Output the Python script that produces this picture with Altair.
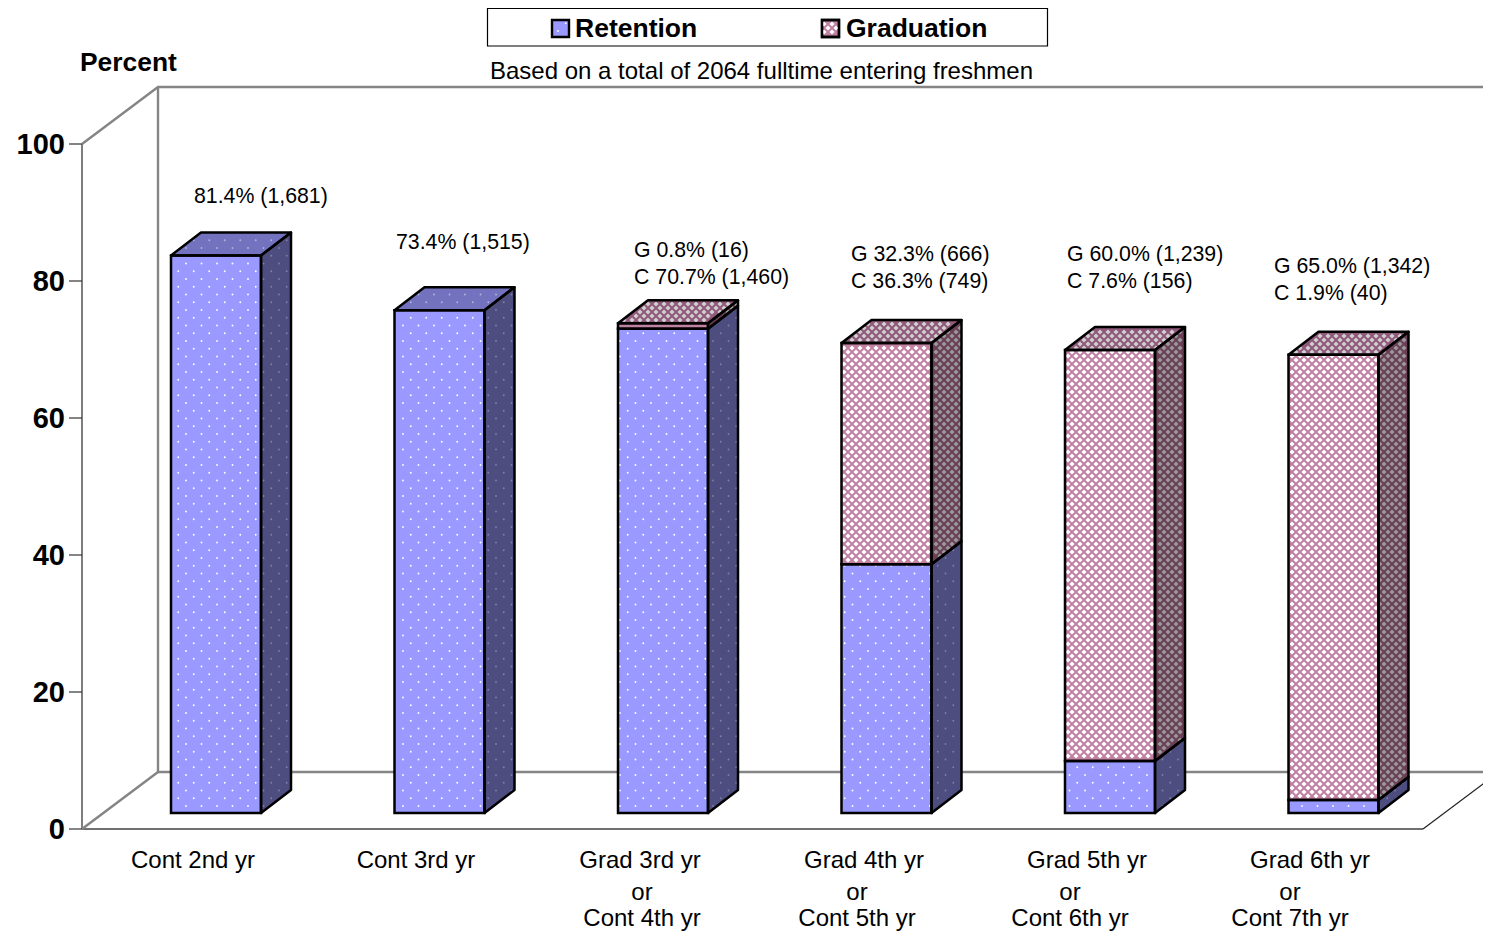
import altair as alt

# ---------- chart values ----------
categories = [["Cont 2nd yr"], ["Cont 3rd yr"],
              ["Grad 3rd yr", "or", "Cont 4th yr"],
              ["Grad 4th yr", "or", "Cont 5th yr"],
              ["Grad 5th yr", "or", "Cont 6th yr"],
              ["Grad 6th yr", "or", "Cont 7th yr"]]
retention = [81.4, 73.4, 70.7, 36.3, 7.6, 1.9]
retention_n = [1681, 1515, 1460, 749, 156, 40]
graduation = [0.0, 0.0, 0.8, 32.3, 60.0, 65.0]
graduation_n = [0, 0, 16, 666, 1239, 1342]
ticks = [0, 20, 40, 60, 80, 100]
series_names = ["Retention", "Graduation"]
note = "Based on a total of 2064 fulltime entering freshmen"
y_title = "Percent"

# ---------- layout (page pixels) ----------
W, H = 1475, 924
PX0, PXS = 82.0, 223.5      # floor front-left, width of one category
PY0, PYS = 829.0, 6.85      # value 0 at the front wall, pixels per percent
def U(px): return (px - PX0) / PXS
def P(py): return (PY0 - py) / PYS
xs = alt.Scale(domain=[U(8), U(8 + W)], nice=False, zero=False)
ys = alt.Scale(domain=[P(8 + H), P(8)], nice=False, zero=False)
BAR_L, BAR_W = U(171), 90 / PXS
BASE = P(813)
DX, DY = 30 / PXS, 23 / PYS
WX, WY = 76 / PXS, 57 / PYS

FONT = "Liberation Sans"
BLUE = {"front": "#9999ff", "side": "#4d4d80", "top": "#7272bf"}
BLUE_DOT = {"front": "#ffffff", "side": "#8080a0", "top": "#b4b4d8"}
PINK = {"front": "#c081a3", "side": "#6b3f57", "top": "#90587a"}
PINK_DOT = {"front": "#ffffff", "side": "#999999", "top": "#d0d0d0"}
BLOB = 26

# ---------- faces ----------
fronts, sides, tops = [], [], []
dots, blobs = [], []

def inside(face, px, py, l, r, b, t):
    d, e = 30, 23
    m = 1.0
    if face == "front":
        return l + m < px < r - m and t + m < py < b - m
    if not (r + m < px < r + d - m):
        return False
    s = (px - r) * e / d
    return t - s + m < py < b - s - m

def fill_texture(out, per_x, per_y, l, r, b, t, colours, with_side=True):
    row = int(t // per_y) - 5
    while row * per_y < b + 1:
        py = row * per_y
        off = per_x / 2 if row % 2 else 0
        k = int((l - 5) // per_x)
        while k * per_x + off < r + 35:
            px = k * per_x + off
            if inside("front", px, py, l, r, b, t):
                out.append({"u": U(px), "p": P(py), "c": colours["front"]})
            elif with_side and inside("side", px, py, l, r, b, t):
                out.append({"u": U(px), "p": P(py), "c": colours["side"]})
            k += 1
        row += 1

def fill_top(out, per_x, per_y, l, r, t, colours):
    row = int((t - 23) // per_y) - 1
    while row * per_y < t:
        py = row * per_y
        if t - 23 + 1.5 < py < t - 1.5:
            s = (t - py) * 30 / 23
            off = per_x / 2 if row % 2 else 0
            k = int((l - 5) // per_x)
            while k * per_x + off < r + 35:
                px = k * per_x + off
                if l + s + 1.5 < px < r + s - 1.5:
                    out.append({"u": U(px), "p": P(py), "c": colours["top"]})
                k += 1
        row += 1

for i in range(6):
    left = BAR_L + i
    right = left + BAR_W
    lower = BASE
    parts = [("r", retention[i], BLUE), ("g", graduation[i], PINK)]
    parts = [q for q in parts if q[1] > 0]
    for j, (name, val, pal) in enumerate(parts):
        upper = lower + val
        key = f"{i}{name}"
        fronts.append({"x": left, "x2": right, "y": lower, "y2": upper, "f": pal["front"]})
        sides.append({"id": key, "x": right, "y": lower, "y2": upper, "f": pal["side"]})
        sides.append({"id": key, "x": right + DX, "y": lower + DY, "y2": upper + DY, "f": pal["side"]})
        l_px = PX0 + left * PXS
        r_px = PX0 + right * PXS
        b_px = PY0 - lower * PYS
        t_px = PY0 - upper * PYS
        if name == "r":
            fill_texture(dots, 15.5, 7.75, l_px, r_px, b_px, t_px, BLUE_DOT)
        else:
            fill_texture(blobs, 8.0, 4.0, l_px, r_px, b_px, t_px, PINK_DOT)
        if j == len(parts) - 1:
            tops.append({"id": key, "x": left, "x2": right, "y": upper, "f": pal["top"]})
            tops.append({"id": key, "x": left + DX, "x2": right + DX, "y": upper + DY, "f": pal["top"]})
            if name == "r":
                fill_top(dots, 15.5, 7.75, l_px, r_px, t_px, BLUE_DOT)
            else:
                fill_top(blobs, 8.0, 4.0, l_px, r_px, t_px, PINK_DOT)
        lower = upper

# legend swatch texture
leg_blob = []
fill_texture(leg_blob, 8.0, 4.0, 821, 840, 37, 19, PINK_DOT, with_side=False)
leg_dot = []
fill_texture(leg_dot, 15.5, 7.75, 551, 570, 37, 19, BLUE_DOT, with_side=False)

def X(f="x"): return alt.X(f"{f}:Q", scale=xs, axis=None)
def Y(f="y"): return alt.Y(f"{f}:Q", scale=ys, axis=None)
def D(rows): return alt.Data(values=rows)

# ---------- walls ----------
grey = "#858585"
wall_thick = [
    [(0, 100), (WX, 100 + WY), (U(1500), 100 + WY)],
    [(WX, 100 + WY), (WX, WY), (U(1500), WY)],
    [(WX, WY), (0, 0)],
]
wall_thin = [
    [(0, 0), (0, 100)],
    [(0, 0), (6, 0)],
]
wall_black = [[(6, 0), (6 + WX, WY)]]
def wall_rows(segs):
    return [{"id": a, "o": b, "x": p[0], "y": p[1]} for a, s in enumerate(segs) for b, p in enumerate(s)]

def walls(segs, colour, width):
    return alt.Chart(D(wall_rows(segs))).mark_line(color=colour, strokeWidth=width, clip=True).encode(
        x=X(), y=Y(), detail="id:N", order="o:Q")

layers = [
    walls(wall_thin, "#707070", 1.8),
    walls(wall_thick, grey, 2.4),
    walls(wall_black, "#222222", 1.2),
]

# ---------- value axis, drawn through the y scale ----------
tick_rows = [{"v": v} for v in ticks]
layers += [
    alt.Chart(D(tick_rows)).mark_rule(color="#333333", strokeWidth=1.2).encode(
        x=alt.value(69 - 8), x2=alt.value(82 - 8), y=alt.Y("v:Q", scale=ys, axis=None)),
    alt.Chart(D(tick_rows)).mark_text(font=FONT, fontSize=29, fontWeight="bold", align="right",
                                      baseline="middle", color="black", dy=1).encode(
        x=alt.value(65 - 8), y=alt.Y("v:Q", scale=ys, axis=None), text="v:Q"),
]

# ---------- bars ----------
colr = alt.Color("f:N", scale=None)
SW = 2.5
layers += [
    alt.Chart(D(sides)).mark_area(orient="vertical", strokeWidth=0).encode(
        x=X(), y=Y(), y2="y2:Q", detail="id:N", color=colr),
    alt.Chart(D(tops)).mark_area(orient="horizontal", strokeWidth=0).encode(
        x=X(), x2="x2:Q", y=Y(), detail="id:N", color=colr),
    alt.Chart(D(fronts)).mark_rect().encode(x=X(), x2="x2:Q", y=Y(), y2="y2:Q", color=colr),
    alt.Chart(D(blobs)).mark_point(filled=True, shape="diamond", size=BLOB, opacity=1).encode(
        x=X("u"), y=Y("p"), color=alt.Color("c:N", scale=None)),
    alt.Chart(D(dots)).mark_point(filled=True, shape="circle", size=3.5, opacity=1).encode(
        x=X("u"), y=Y("p"), color=alt.Color("c:N", scale=None)),
    alt.Chart(D(sides)).mark_area(orient="vertical", fillOpacity=0, stroke="black", strokeWidth=SW,
                                  strokeJoin="round").encode(
        x=X(), y=Y(), y2="y2:Q", detail="id:N"),
    alt.Chart(D(tops)).mark_area(orient="horizontal", fillOpacity=0, stroke="black", strokeWidth=SW,
                                 strokeJoin="round").encode(
        x=X(), x2="x2:Q", y=Y(), detail="id:N"),
    alt.Chart(D(fronts)).mark_rect(fillOpacity=0, stroke="black", strokeWidth=SW).encode(
        x=X(), x2="x2:Q", y=Y(), y2="y2:Q"),
]

# ---------- legend ----------
one = D([{}])
def box(x0, x1, y0, y1, fill, sw):
    return alt.Chart(one).mark_rect(fill=fill, stroke="black", strokeWidth=sw).encode(
        x=alt.value(x0 - 8), x2=alt.value(x1 - 8), y=alt.value(y0 - 8), y2=alt.value(y1 - 8))
layers += [
    box(487.5, 1047.5, 8.5, 46, "white", 1.2),
    box(552, 569, 20, 37, BLUE["front"], 2.4),
    box(822, 839, 20, 37, PINK["front"], 2.4),
    alt.Chart(D(leg_blob)).mark_point(filled=True, shape="diamond", size=BLOB, opacity=1).encode(
        x=X("u"), y=Y("p"), color=alt.Color("c:N", scale=None)),
    alt.Chart(D(leg_dot)).mark_point(filled=True, shape="circle", size=3.5, opacity=1).encode(
        x=X("u"), y=Y("p"), color=alt.Color("c:N", scale=None)),
    box(822, 839, 20, 37, "transparent", 2.4),
]

# ---------- texts ----------
def txt(s, x, y, size, align="left", bold=False):
    return alt.Chart(one).mark_text(font=FONT, fontSize=size, align=align, baseline="middle", dy=1,
                                    fontWeight="bold" if bold else "normal", color="black").encode(
        x=alt.value(x - 8), y=alt.value(y - 8), text=alt.value(s))

layers += [
    txt(series_names[0], 575, 28, 26.5, bold=True),
    txt(series_names[1], 846, 28, 26.5, bold=True),
    txt(y_title, 80, 62, 26.4, bold=True),
    txt(note, 490, 71, 24),
]

# data labels
label_pos = [[(194, 196)], [(396, 242)],
             [(634, 250), (634, 277)], [(851, 254), (851, 281)],
             [(1067, 254), (1067, 281)], [(1274, 266), (1274, 293)]]
for i in range(6):
    if graduation[i] > 0:
        lines = [f"G {graduation[i]:.1f}% ({graduation_n[i]:,})", f"C {retention[i]:.1f}% ({retention_n[i]:,})"]
    else:
        lines = [f"{retention[i]:.1f}% ({retention_n[i]:,})"]
    for s, (x, y) in zip(lines, label_pos[i]):
        layers.append(txt(s, x, y, 21.3))

# category labels (the last line stays inside the page's drawable height)
cat_pos = [[(193, 860)], [(416, 860)],
           [(640, 860), (642, 892), (642, 918)],
           [(864, 860), (857, 892), (857, 918)],
           [(1087, 860), (1070, 892), (1070, 918)],
           [(1310, 860), (1290, 892), (1290, 918)]]
for lines, ps in zip(categories, cat_pos):
    for s, (x, y) in zip(lines, ps):
        layers.append(txt(s, x, y, 24, align="center"))

chart = alt.layer(*layers).properties(
    width=W, height=H, padding=0, autosize=alt.AutoSizeParams(type="none"), background="white"
).configure_view(stroke=None)

chart.save("out.html", embed_options={"renderer": "svg", "actions": False})
